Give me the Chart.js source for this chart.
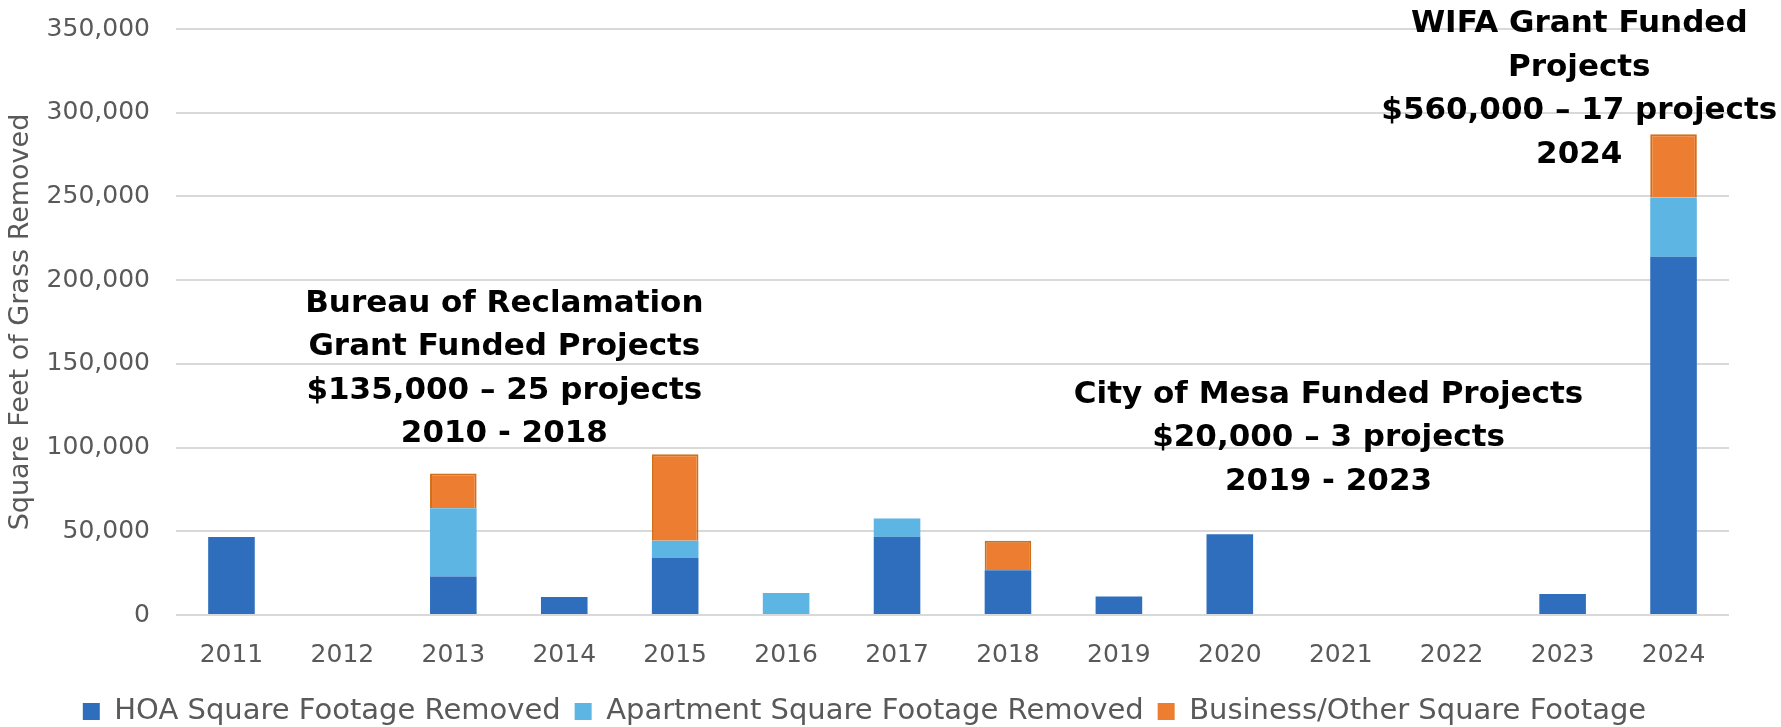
<!DOCTYPE html>
<html>
<head>
<meta charset="utf-8">
<script src="https://cdn.jsdelivr.net/npm/chart.js@4.4.1/dist/chart.umd.min.js"></script>
<style>
html, body { margin: 0; padding: 0; background: #fff; }
</style>
</head>
<body>
<canvas id="grassChart" width="1781" height="727"></canvas>
<script>
// years on the x axis
const years = ['2011', '2012', '2013', '2014', '2015', '2016', '2017', '2018', '2019', '2020', '2021', '2022', '2023', '2024'];

// square feet removed, per year
const hoaRemoved = [46600, 0, 23000, 10700, 34000, 0, 46700, 26700, 11000, 48200, 0, 0, 12600, 214000];
const apartmentRemoved = [0, 0, 40800, 0, 10400, 13200, 11000, 0, 0, 0, 0, 0, 0, 35300];
const businessRemoved = [0, 0, 20700, 0, 51600, 0, 0, 17700, 0, 0, 0, 0, 0, 37800];

const seriesNames = ['HOA Square Footage Removed', 'Apartment Square Footage Removed', 'Business/Other Square Footage'];
const yTicks = [0, 50000, 100000, 150000, 200000, 250000, 300000, 350000];

// funding program notes (anchored at category index / value)
const bureauNote = ['Bureau of Reclamation', 'Grant Funded Projects', '$135,000 \u2013 25 projects', '2010 - 2018'];
const mesaNote = ['City of Mesa Funded Projects', '$20,000 \u2013 3 projects', '2019 - 2023'];
const wifaNote = ['WIFA Grant Funded', 'Projects', '$560,000 \u2013 17 projects', '2024'];

const notes = [
    { lines: bureauNote, at: 2.46, top: 185800 },
    { lines: mesaNote, at: 9.89, top: 131500 },
    { lines: wifaNote, at: 12.15, top: 352800 }
];

const FONT = "'DejaVu Sans', sans-serif";
const GREY = '#595959';

const notePlugin = {
    id: 'notes',
    afterDraw(chart) {
        const ctx = chart.ctx;
        const x = chart.scales.x;
        const y = chart.scales.y;
        ctx.save();
        ctx.fillStyle = '#000';
        ctx.font = 'bold 31px ' + FONT;
        ctx.textAlign = 'center';
        ctx.textBaseline = 'middle';
        notes.forEach(n => {
            const cx = x.getPixelForValue(n.at);
            const cy = y.getPixelForValue(n.top);
            n.lines.forEach((line, i) => ctx.fillText(line, cx, cy + i * 43.5));
        });
        ctx.restore();
    }
};

const ctx = document.getElementById('grassChart').getContext('2d');
new Chart(ctx, {
    type: 'bar',
    data: {
        labels: years,
        datasets: [
            {
                label: seriesNames[0],
                data: hoaRemoved,
                backgroundColor: '#2E6EBC',
                borderWidth: 0
            },
            {
                label: seriesNames[1],
                data: apartmentRemoved,
                backgroundColor: '#5DB5E3',
                borderWidth: 0
            },
            {
                label: seriesNames[2],
                data: businessRemoved,
                backgroundColor: '#ED7D31',
                borderColor: '#D0701A',
                borderWidth: c => (c.raw > 0 || c.type !== 'data') ? 2 : 0
            }
        ]
    },
    options: {
        responsive: false,
        animation: false,
        layout: { padding: { top: 29, right: 52, bottom: -9, left: 0 } },
        datasets: {
            bar: { categoryPercentage: 1, barPercentage: 0.42 }
        },
        plugins: {
            legend: {
                position: 'bottom',
                labels: {
                    font: { family: FONT, size: 29 },
                    color: GREY,
                    boxWidth: 17,
                    boxHeight: 17,
                    padding: 14
                }
            },
            tooltip: { enabled: false }
        },
        scales: {
            x: {
                stacked: true,
                grid: { display: false },
                border: { display: false },
                ticks: {
                    font: { family: FONT, size: 25 },
                    color: GREY,
                    padding: 17
                },
                afterFit: s => { s.height = 68; }
            },
            y: {
                stacked: true,
                min: 0,
                max: 350000,
                afterBuildTicks: s => { s.ticks = yTicks.map(v => ({ value: v })); },
                grid: { color: '#D9D9D9', lineWidth: 2, drawTicks: false },
                border: { display: false },
                ticks: {
                    font: { family: FONT, size: 25 },
                    color: GREY,
                    padding: 26,
                    callback: v => v.toLocaleString('en-US')
                },
                title: {
                    display: true,
                    text: 'Square Feet of Grass Removed',
                    font: { family: FONT, size: 27 },
                    color: GREY,
                    padding: { top: 5, bottom: 0 }
                },
                afterFit: s => {
                    s.width = 176;
                    s.paddingTop = 0;
                    s.paddingBottom = 0;
                }
            }
        }
    },
    plugins: [notePlugin]
});
</script>
</body>
</html>
